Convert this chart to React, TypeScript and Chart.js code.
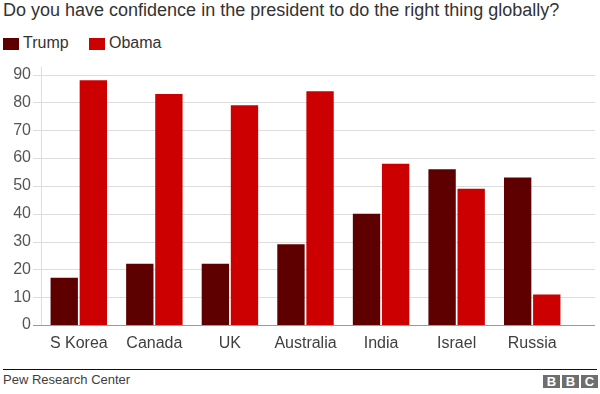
import React, { useEffect, useRef } from "react";
import { Chart, registerables } from "chart.js";

Chart.register(...registerables);

const titleText = "Do you have confidence in the president to do the right thing globally?";
const categories = ["S Korea", "Canada", "UK", "Australia", "India", "Israel", "Russia"];
const trumpValues = [17, 22, 22, 29, 40, 56, 53];
const obamaValues = [88, 83, 79, 84, 58, 49, 11];
const seriesNames = ["Trump", "Obama"];
const seriesColors = ["#5e0000", "#cc0000"];
const yTicks = [0, 10, 20, 30, 40, 50, 60, 70, 80, 90];
const sourceText = "Pew Research Center";
const logoLetters = ["B", "B", "C"];

const FONT = "'Liberation Sans', Arial, Helvetica, sans-serif";

const gridPlugin = {
  id: "customGrid",
  beforeDatasetsDraw(chart: any) {
    const { ctx, chartArea, scales } = chart;
    const y = scales.y;
    ctx.save();
    ctx.lineWidth = 1;
    ctx.strokeStyle = "#dddddd";
    const ax = Math.round(chartArea.left) + 0.5;
    ctx.beginPath();
    ctx.moveTo(ax, chartArea.top - 8);
    ctx.lineTo(ax, chartArea.bottom);
    ctx.stroke();
    y.ticks.forEach((t: any) => {
      const py = Math.round(y.getPixelForValue(t.value)) + 0.5;
      ctx.strokeStyle = t.value === 0 ? "#9a9a9a" : "#dddddd";
      ctx.beginPath();
      ctx.moveTo(chartArea.left - 8, py);
      ctx.lineTo(chartArea.right + 25, py);
      ctx.stroke();
    });
    ctx.restore();
  },
};

function ChartCanvas() {
  const ref = useRef<HTMLCanvasElement | null>(null);
  useEffect(() => {
    if (!ref.current) return;
    const chart = new Chart(ref.current, {
      type: "bar",
      data: {
        labels: categories,
        datasets: [
          { label: seriesNames[0], data: trumpValues, backgroundColor: seriesColors[0] },
          { label: seriesNames[1], data: obamaValues, backgroundColor: seriesColors[1] },
        ],
      },
      options: {
        animation: false,
        responsive: false,
        maintainAspectRatio: false,
        layout: { padding: { top: 15, right: 30, bottom: 0, left: 0 } },
        datasets: { bar: { categoryPercentage: 0.77, barPercentage: 0.94 } },
        plugins: { legend: { display: false }, title: { display: false }, tooltip: { enabled: false } },
        scales: {
          x: {
            grid: { display: false, drawTicks: false },
            border: { display: false },
            ticks: { color: "#404040", font: { family: FONT, size: 16 }, padding: 9, maxRotation: 0, autoSkip: false },
            afterFit: (s: any) => { s.height = 40; },
          },
          y: {
            min: 0,
            max: 90,
            grid: { display: false, drawTicks: false },
            border: { display: false },
            ticks: {
              stepSize: 10,
              color: "#555555",
              font: { family: FONT, size: 16 },
              padding: 10,
              callback: (v: any) => (yTicks.includes(Number(v)) ? String(v) : ""),
            },
            afterFit: (s: any) => { s.width = 41; },
          },
        },
      },
      plugins: [gridPlugin],
    });
    return () => chart.destroy();
  }, []);
  return <canvas ref={ref} width={600} height={310} style={{ width: 600, height: 310, display: "block" }} />;
}

export default function App() {
  return (
    <div style={{ position: "fixed", left: 0, top: 0, width: 600, height: 394, background: "#fff", fontFamily: FONT, overflow: "hidden" }}>
      <div style={{ position: "absolute", left: 3, top: 0, fontSize: 18, lineHeight: "20px", color: "#333", whiteSpace: "nowrap" }}>{titleText}</div>
      {seriesNames.map((n, i) => (
        <React.Fragment key={n}>
          <div style={{ position: "absolute", left: i === 0 ? 3 : 89, top: 38, width: 16, height: 12, background: seriesColors[i] }} />
          <div style={{ position: "absolute", left: i === 0 ? 23 : 109, top: 35, fontSize: 16, lineHeight: "16px", color: "#333", whiteSpace: "nowrap" }}>{n}</div>
        </React.Fragment>
      ))}
      <div style={{ position: "absolute", left: 0, top: 55 }}>
        <ChartCanvas />
      </div>
      <div style={{ position: "absolute", left: 3, top: 369, width: 594, height: 1, background: "#111" }} />
      <div style={{ position: "absolute", left: 3, top: 373, fontSize: 13, lineHeight: "13px", color: "#404040", whiteSpace: "nowrap" }}>{sourceText}</div>
      <div style={{ position: "absolute", left: 543, top: 375, display: "flex", gap: 2 }}>
        {logoLetters.map((l, i) => (
          <div key={i} style={{ width: 17, height: 13, background: "#6e6e6e", color: "#fff", fontWeight: "bold", fontSize: 13, lineHeight: "13px", textAlign: "center" }}>{l}</div>
        ))}
      </div>
    </div>
  );
}
